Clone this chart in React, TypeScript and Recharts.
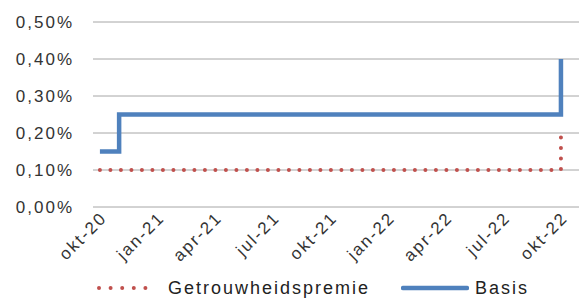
import React from 'react';
import { LineChart, Line, XAxis, YAxis, CartesianGrid, Legend } from 'recharts';

// monthly points, okt-20 .. okt-22
const MONTHS = [
  'okt-20', 'nov-20', 'dec-20', 'jan-21', 'feb-21', 'mrt-21', 'apr-21', 'mei-21', 'jun-21',
  'jul-21', 'aug-21', 'sep-21', 'okt-21', 'nov-21', 'dec-21', 'jan-22', 'feb-22', 'mrt-22',
  'apr-22', 'mei-22', 'jun-22', 'jul-22', 'aug-22', 'sep-22', 'okt-22',
];

// rates in %
const BASIS = [
  0.15, 0.25, 0.25, 0.25, 0.25, 0.25, 0.25, 0.25, 0.25, 0.25, 0.25, 0.25, 0.25,
  0.25, 0.25, 0.25, 0.25, 0.25, 0.25, 0.25, 0.25, 0.25, 0.25, 0.25, 0.4,
];
const GETROUWHEIDSPREMIE = [
  0.1, 0.1, 0.1, 0.1, 0.1, 0.1, 0.1, 0.1, 0.1, 0.1, 0.1, 0.1, 0.1,
  0.1, 0.1, 0.1, 0.1, 0.1, 0.1, 0.1, 0.1, 0.1, 0.1, 0.1, 0.2,
];

const X_TICKS = [0, 3, 6, 9, 12, 15, 18, 21, 24];
const Y_TICKS = [0, 0.1, 0.2, 0.3, 0.4, 0.5];

const BLUE = '#4F81BD';
const RED = '#C0504D';
const FONT = '"Liberation Sans", Arial, sans-serif';

const data = MONTHS.map((label, i) => ({
  m: i,
  label,
  basis: BASIS[i],
  premie: GETROUWHEIDSPREMIE[i],
}));

const pct = (v: number) => v.toFixed(2).replace('.', ',') + '%';

const MonthTick = (props: any) => {
  const { x, y, payload } = props;
  const ax = x + 8;
  const ay = y + 12;
  return (
    <text
      x={ax}
      y={ay}
      textAnchor="end"
      transform={`rotate(-45, ${ax}, ${ay})`}
      fontSize={17}
      letterSpacing={2}
      fill="#333"
      fontFamily={FONT}
    >
      {MONTHS[payload.value]}
    </text>
  );
};

const ChartLegend = () => (
  <div
    style={{
      display: 'flex',
      alignItems: 'center',
      paddingLeft: 97,
      paddingTop: 3,
      height: 20,
      fontFamily: FONT,
      fontSize: 18,
      letterSpacing: 2,
      color: '#222',
    }}
  >
    <div style={{ display: 'flex', alignItems: 'center' }}>
      <svg width={62} height={8}>
        <line x1={2} y1={4} x2={60} y2={4} stroke={RED} strokeWidth={4}
          strokeDasharray="0 11.6" strokeLinecap="round" />
      </svg>
      <span style={{ marginLeft: 9 }}>Getrouwheidspremie</span>
    </div>
    <div style={{ display: 'flex', alignItems: 'center', marginLeft: 31 }}>
      <svg width={68} height={8}>
        <line x1={2} y1={4} x2={66} y2={4} stroke={BLUE} strokeWidth={4.5} strokeLinecap="round" />
      </svg>
      <span style={{ marginLeft: 6 }}>Basis</span>
    </div>
  </div>
);

export default function App() {
  return (
    <div style={{ position: 'absolute', left: 0, top: 0, background: '#fff' }}>
      <LineChart width={579} height={298} data={data} margin={{ top: 22, right: 0, left: 0, bottom: 0 }}>
        <CartesianGrid vertical={false} stroke="#A6A6A6" strokeWidth={1} />
        <XAxis
          dataKey="m"
          type="number"
          domain={[-0.36, 24.94]}
          ticks={X_TICKS}
          tick={<MonthTick />}
          tickLine={false}
          axisLine={false}
          tickSize={0}
          tickMargin={0}
          height={68}
          interval={0}
        />
        <YAxis
          domain={[0, 0.5]}
          ticks={Y_TICKS}
          tickFormatter={pct}
          width={93}
          tickSize={0}
          tickMargin={19}
          axisLine={false}
          tickLine={false}
          tick={{ fontSize: 17, fill: '#333', fontFamily: FONT, letterSpacing: 2 }}
        />
        <Legend verticalAlign="bottom" content={<ChartLegend />} />
        <Line
          dataKey="premie"
          name="Getrouwheidspremie"
          type="stepAfter"
          stroke={RED}
          strokeWidth={4}
          strokeDasharray="0 10.5"
          strokeLinecap="round"
          dot={false}
          activeDot={false}
          isAnimationActive={false}
        />
        <Line
          dataKey="basis"
          name="Basis"
          type="stepAfter"
          stroke={BLUE}
          strokeWidth={4.5}
          strokeLinejoin="miter"
          dot={false}
          activeDot={false}
          isAnimationActive={false}
        />
      </LineChart>
    </div>
  );
}
